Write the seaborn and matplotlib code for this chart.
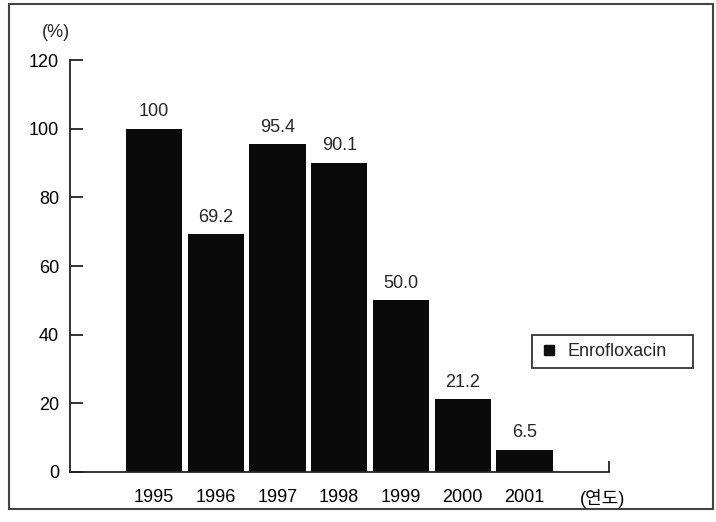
import matplotlib
matplotlib.use("Agg")
import matplotlib.pyplot as plt
from matplotlib.patches import Rectangle
from matplotlib.lines import Line2D
import seaborn as sns
import pandas as pd

# Detection rate by year (%)
years = ["1995", "1996", "1997", "1998", "1999", "2000", "2001"]
rates = [100, 69.2, 95.4, 90.1, 50.0, 21.2, 6.5]
series_name = "Enrofloxacin"
y_ticks = [0, 20, 40, 60, 80, 100, 120]
x_unit = "(연도)"
y_unit = "(%)"

sns.set_theme(style="white")
plt.rcParams["font.family"] = ["Liberation Sans", "Noto Sans CJK KR", "DejaVu Sans"]

FS = 13

df = pd.DataFrame({"year": years, "rate": rates})

fig = plt.figure(figsize=(7.16, 5.22), dpi=100)
ax = fig.add_axes([0.0978, 0.0958, 0.7528, 0.7892])

sns.barplot(data=df, x="year", y="rate", color="#0a0a0a", saturation=1,
            width=0.91, ax=ax, edgecolor="#0a0a0a", linewidth=0)

xmax = 7.37
ax.set_xlim(-1.36, xmax)
ax.set_ylim(0, 120)
ax.set_yticks(y_ticks)
ax.set_yticklabels([str(t) for t in y_ticks], fontsize=FS)
ax.set_xticks(list(range(len(years))) + [7.27])
ax.set_xticklabels(years + [x_unit], fontsize=FS)
ax.set_xlabel("")
ax.set_ylabel("")

# Inward ticks on y, none on x, small end mark at the right end of the x-axis
ax.tick_params(axis="y", direction="in", length=9, width=1.3, colors="#222222",
               labelcolor="black", pad=8, left=True)
ax.tick_params(axis="x", length=0, pad=12, labelcolor="black")
ax.set_xticks([xmax], minor=True)
ax.tick_params(axis="x", which="minor", direction="in", length=8, width=1.3,
               colors="#222222", bottom=True)

for side in ["top", "right"]:
    ax.spines[side].set_visible(False)
for side in ["left", "bottom"]:
    ax.spines[side].set_color("#222222")
    ax.spines[side].set_linewidth(1.3)

labels = ["100" if v == 100 else f"{v:.1f}" for v in rates]
ax.bar_label(ax.containers[0], labels=labels, padding=6, fontsize=FS)

ax.text(-0.026, 1.068, y_unit, transform=ax.transAxes, ha="center",
        va="center", fontsize=FS)

handle = Line2D([], [], marker="s", linestyle="none", color="#111111",
                markersize=7)
leg = ax.legend([handle], [series_name], loc="center left", mode="expand",
                bbox_to_anchor=(0.743, 0.30, 0.225, 0.052),
                bbox_transform=fig.transFigure,
                fancybox=False, frameon=True, fontsize=FS, handletextpad=0.5,
                borderpad=0.45, handlelength=1.0, borderaxespad=0)
leg.get_frame().set_edgecolor("black")
leg.get_frame().set_linewidth(1.3)

# Outer frame around the whole figure
fig.patches.append(Rectangle((0.012, 0.025), 0.984, 0.968, transform=fig.transFigure,
                             fill=False, edgecolor="#444444", linewidth=1.5))

fig.savefig("out.png", dpi=100)
